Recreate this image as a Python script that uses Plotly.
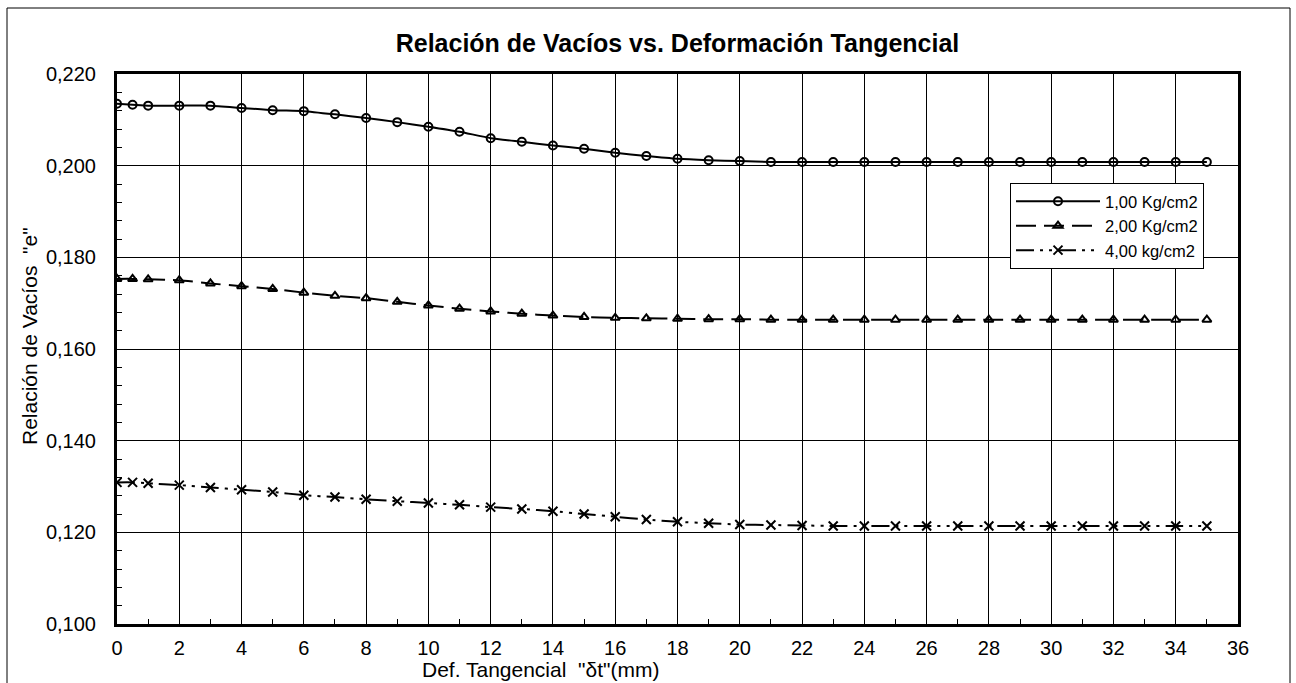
import plotly.graph_objects as go

# Deformación tangencial (mm)
def_tangencial = [0, 0.5, 1, 2, 3, 4, 5, 6, 7, 8, 9, 10, 11, 12, 13, 14, 15, 16, 17, 18,
                  19, 20, 21, 22, 23, 24, 25, 26, 27, 28, 29, 30, 31, 32, 33, 34, 35]

# Relación de vacíos "e" para cada carga normal
e_1kg = [0.2135, 0.2133, 0.2131, 0.2131, 0.2131, 0.2126, 0.2121, 0.2119, 0.2112, 0.2104,
         0.2095, 0.2085, 0.2074, 0.2060, 0.2052, 0.2044, 0.2037, 0.2028, 0.2021, 0.2015,
         0.2012, 0.2010, 0.2008, 0.2008, 0.2008, 0.2008, 0.2008, 0.2008, 0.2008, 0.2008,
         0.2008, 0.2008, 0.2008, 0.2008, 0.2008, 0.2008, 0.2008]
e_2kg = [0.1753, 0.1753, 0.1752, 0.1750, 0.1743, 0.1737, 0.1731, 0.1723, 0.1716, 0.1711,
         0.1703, 0.1695, 0.1688, 0.1682, 0.1677, 0.1673, 0.1670, 0.1668, 0.1667, 0.1666,
         0.1665, 0.1665, 0.1664, 0.1664, 0.1664, 0.1664, 0.1664, 0.1664, 0.1664, 0.1664,
         0.1664, 0.1664, 0.1664, 0.1664, 0.1664, 0.1664, 0.1664]
e_4kg = [0.1309, 0.1309, 0.1307, 0.1303, 0.1298, 0.1293, 0.1288, 0.1281, 0.1277, 0.1272,
         0.1268, 0.1264, 0.1260, 0.1255, 0.1251, 0.1246, 0.1240, 0.1234, 0.1228, 0.1223,
         0.1220, 0.1217, 0.1216, 0.1215, 0.1214, 0.1214, 0.1214, 0.1214, 0.1214, 0.1214,
         0.1214, 0.1214, 0.1214, 0.1214, 0.1214, 0.1214, 0.1214]

series_names = ["1,00 Kg/cm2", "2,00 Kg/cm2", "4,00 kg/cm2"]

FONT = "Liberation Sans, Arial, sans-serif"
W, H = 1296, 683
L, R, T, B = 117, 58, 74, 59
pw, ph = W - L - R, H - T - B


def px_x(p):
    """Pixel column -> paper x."""
    return (p - L) / pw


def px_y(p):
    """Pixel row -> paper y."""
    return (H - B - p) / ph


fig = go.Figure()

styles = [
    (e_1kg, "solid", "circle-open", 8),
    (e_2kg, "20px,8px", "triangle-up-open", 8),
    (e_4kg, "18px,6px,3px,6px,3px,6px", "x-thin-open", 9),
]
for (vals, dash, sym, msize), name in zip(styles, series_names):
    fig.add_trace(go.Scatter(
        x=def_tangencial, y=vals, name=name, mode="lines+markers",
        line=dict(color="black", width=2, dash=dash, shape="spline", smoothing=0.5),
        marker=dict(symbol=sym, size=msize, color="black",
                    line=dict(color="black", width=2)),
    ))

# Outer chart border
fig.add_shape(type="rect", xref="paper", yref="paper",
              x0=px_x(7), x1=px_x(1290), y0=px_y(H + 10), y1=px_y(8),
              line=dict(color="black", width=1), fillcolor="rgba(0,0,0,0)", layer="below")

# Axis titles
fig.add_annotation(text='Def. Tangencial  "δt"(mm)', xref="paper", yref="paper",
                   x=px_x(540), y=px_y(683), xanchor="center", yanchor="bottom",
                   showarrow=False, font=dict(family=FONT, size=21, color="black"))
fig.add_annotation(text='Relación de Vacíos  "e"', xref="paper", yref="paper",
                   x=px_x(29), y=px_y(336), xanchor="center", yanchor="middle",
                   textangle=-90, showarrow=False,
                   font=dict(family=FONT, size=21, color="black"))

fig.update_layout(
    width=W, height=H,
    margin=dict(l=L, r=R, t=T, b=B, autoexpand=False),
    paper_bgcolor="white", plot_bgcolor="white",
    separators=",.",
    font=dict(family=FONT, size=20, color="black"),
    title=dict(text="<b>Relación de Vacíos vs. Deformación Tangencial</b>",
               x=0.5, xref="paper", xanchor="center",
               y=1 - 43 / H, yref="container", yanchor="middle",
               font=dict(family=FONT, size=25, color="black")),
    showlegend=True,
    legend=dict(x=px_x(1010), y=px_y(183), xanchor="left", yanchor="top",
                bgcolor="white", bordercolor="black", borderwidth=1,
                font=dict(family=FONT, size=16.5, color="black"),
                itemwidth=84, tracegroupgap=0),
    xaxis=dict(range=[0, 36], dtick=2, tick0=0, showgrid=True, gridcolor="black", gridwidth=1,
               showline=True, linecolor="black", linewidth=3, mirror=True,
               ticks="inside", ticklen=5, tickcolor="black",
               minor=dict(dtick=1, ticks="inside", ticklen=5, tickcolor="black", showgrid=False),
               ticklabelstandoff=4, zeroline=False,
               tickfont=dict(family=FONT, size=20)),
    yaxis=dict(range=[0.100, 0.220], dtick=0.02, tick0=0.1, tickformat=".3f",
               showgrid=True, gridcolor="black", gridwidth=1,
               showline=True, linecolor="black", linewidth=3, mirror=True,
               ticks="inside", ticklen=5, tickcolor="black",
               minor=dict(dtick=0.004, ticks="inside", ticklen=5, tickcolor="black", showgrid=False),
               ticklabelstandoff=14, zeroline=False,
               tickfont=dict(family=FONT, size=20)),
)

fig.write_html("out.html", config={"displayModeBar": False})
